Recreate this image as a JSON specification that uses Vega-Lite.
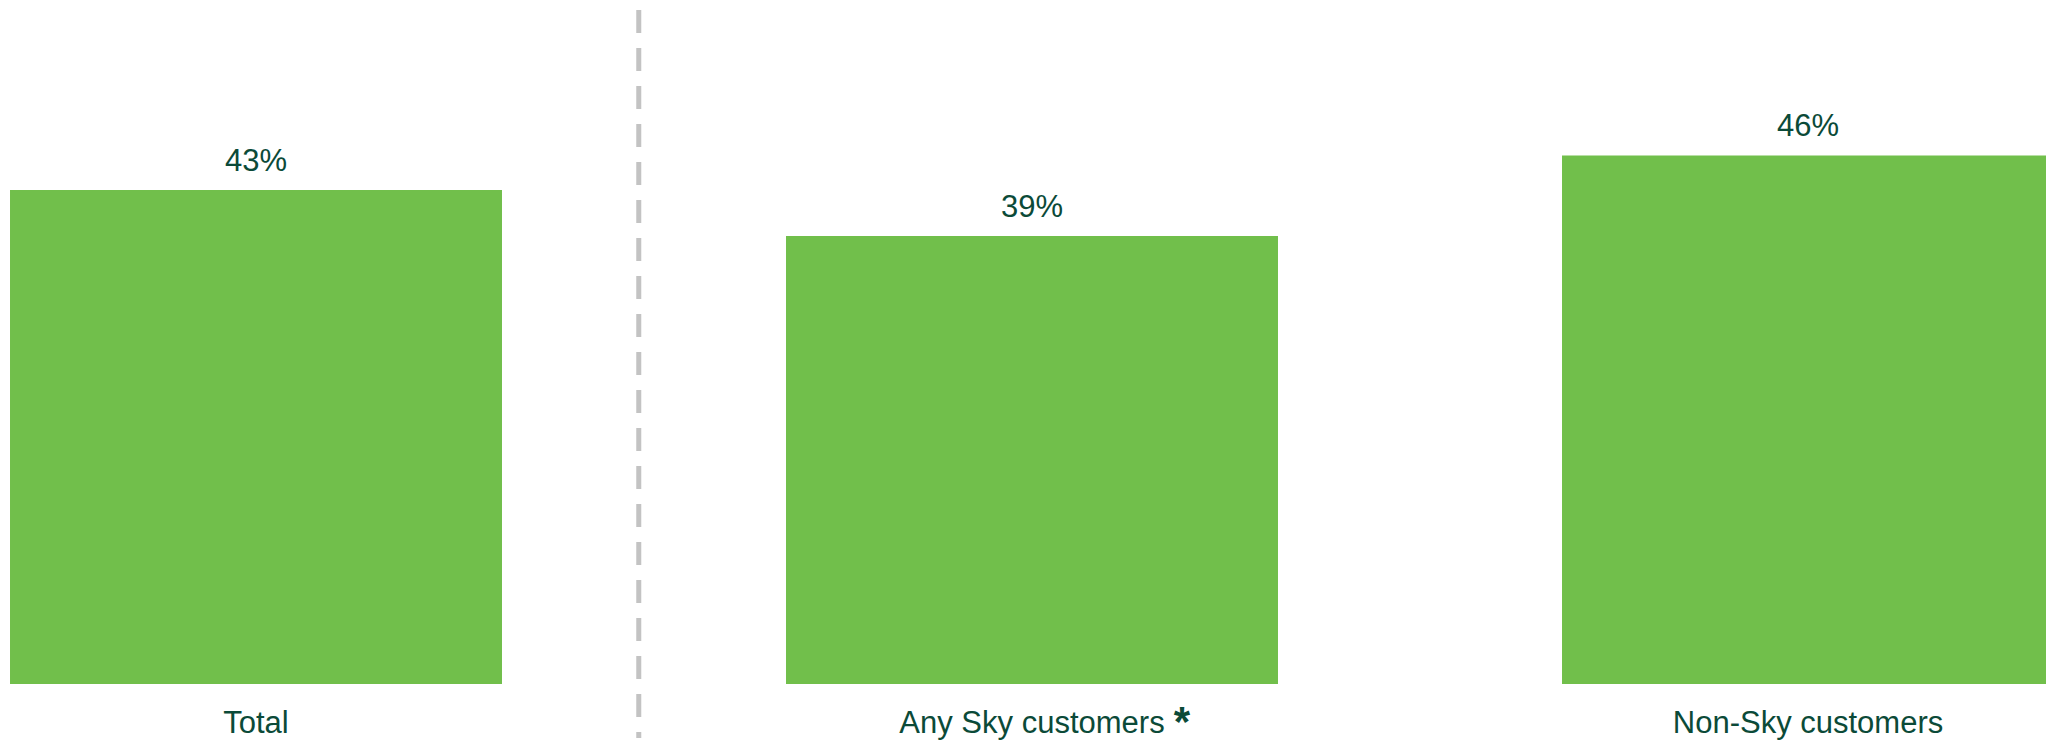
{
  "$schema": "https://vega.github.io/schema/vega-lite/v6.json",
  "width": 2046,
  "height": 743,
  "autosize": {"type": "none"},
  "padding": 0,
  "background": "white",
  "config": {"view": {"stroke": null}, "font": "Liberation Sans"},
  "data": {"values": [
    {"cat": "Total", "value": 43, "note": ""},
    {"cat": "Any Sky customers", "value": 39, "note": "*"},
    {"cat": "Non-Sky customers", "value": 46, "note": ""}
  ]},
  "encoding": {
    "x": {"field": "cat", "type": "nominal", "sort": null,
      "scale": {"range": [-132, 2196], "paddingInner": 0.366, "paddingOuter": 0.183},
      "axis": null}
  },
  "layer": [
    {
      "mark": {"type": "bar", "color": "#71BF4B"},
      "encoding": {
        "y": {"field": "value", "type": "quantitative",
          "scale": {"domain": [-5.13, 59.53], "nice": false, "zero": false}, "axis": null},
        "y2": {"datum": 0}
      }
    },
    {
      "transform": [{"calculate": "datum.value + '%'", "as": "lbl"}],
      "mark": {"type": "text", "fontSize": 31, "color": "#0B4A38", "baseline": "alphabetic", "dy": -19},
      "encoding": {
        "y": {"field": "value", "type": "quantitative"},
        "text": {"field": "lbl", "type": "nominal"}
      }
    },
    {
      "mark": {"type": "text", "fontSize": 31, "color": "#0B4A38", "baseline": "middle"},
      "encoding": {
        "y": {"datum": -3.5},
        "text": {"field": "cat"}
      }
    },
    {
      "mark": {"type": "text", "fontSize": 42, "fontWeight": "bold", "color": "#0B4A38", "baseline": "middle", "dx": 150, "dy": -1},
      "encoding": {
        "y": {"datum": -3.5},
        "text": {"field": "note"}
      }
    },
    {
      "data": {"values": [{"cat": "Total"}]},
      "mark": {"type": "rule", "color": "#C3C3C3", "strokeWidth": 5, "strokeDash": [23, 15]},
      "encoding": {
        "x": {"field": "cat", "type": "nominal", "bandPosition": 1.278},
        "y": {"datum": 58.66},
        "y2": {"datum": -4.7}
      }
    }
  ]
}
